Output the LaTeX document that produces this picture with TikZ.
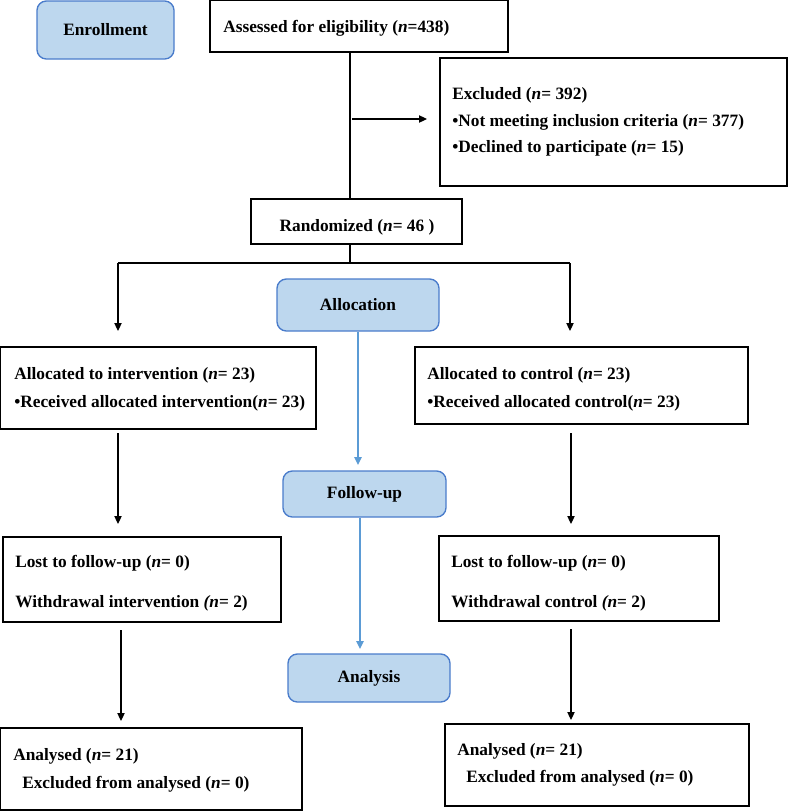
\documentclass[tikz,border=0pt]{standalone}
\usepackage{fontspec}
\setmainfont{Liberation Serif}
\usetikzlibrary{arrows.meta}
\definecolor{phasefill}{HTML}{BDD7EE}
\definecolor{phaseline}{HTML}{4A7CCB}
\definecolor{bluearrow}{HTML}{5B9BD5}
\newcommand{\nn}{\textit{n}}
\tikzset{
  box/.style={draw=black, line width=1.5pt, inner sep=0pt},
  phase/.style={draw=phaseline, fill=phasefill, line width=1pt, rounded corners=7pt, inner sep=0pt},
  txt/.style={inner sep=0pt, anchor=west, font=\fontsize{13}{15}\selectfont\bfseries},
  ctxt/.style={inner sep=0pt, font=\fontsize{13}{15}\selectfont\bfseries},
  arr/.style={draw=black, line width=0.8pt, -{Triangle[length=6pt,width=5.5pt]}},
  plain/.style={draw=black, line width=0.8pt},
  barr/.style={draw=bluearrow, line width=1.2pt, -{Triangle[length=6pt,width=5.5pt]}},
}
\begin{document}
\begin{tikzpicture}[x=0.75pt,y=-0.75pt]
\useasboundingbox (0,0) rectangle (789,811);
% phase boxes
\node[phase, minimum width=137*0.75pt, minimum height=58*0.75pt] (enr) at (105.5,30) {};
\node[ctxt] (enrT) at (105.5,30) {Enrollment};
\node[phase, minimum width=162*0.75pt, minimum height=52*0.75pt] (alloc) at (358,305) {};
\node[ctxt] (allocT) at (358,305) {Allocation};
\node[phase, minimum width=163*0.75pt, minimum height=46*0.75pt] (fol) at (364.5,494) {};
\node[ctxt] (folT) at (364.5,494) {Follow-up};
\node[phase, minimum width=162*0.75pt, minimum height=48*0.75pt] (ana) at (369,678) {};
\node[ctxt] (anaT) at (369,678) {Analysis};
% top
\node[box, minimum width=298*0.75pt, minimum height=52*0.75pt] (ass) at (359,26) {};
\node[txt] (assT) at (223,28) {Assessed for eligibility (\nn=438)};
\node[box, minimum width=347*0.75pt, minimum height=128*0.75pt] (exc) at (613.5,122) {};
\node[txt] (exc1) at (452,95) {Excluded (\nn= 392)};
\node[txt] (exc2) at (452,122) {\textbullet Not meeting inclusion criteria (\nn= 377)};
\node[txt] (exc3) at (452,148) {\textbullet Declined to participate (\nn= 15)};
\node[box, minimum width=211*0.75pt, minimum height=45*0.75pt] (rand) at (356.5,221.5) {};
\node[ctxt] (randT) at (357,227) {Randomized (\nn= 46 )};
% allocation
\node[box, minimum width=316*0.75pt, minimum height=82*0.75pt] (ali) at (158,388) {};
\node[txt] (ali1) at (14,375) {Allocated to intervention (\nn= 23)};
\node[txt] (ali2) at (14,403) {\textbullet Received allocated intervention(\nn= 23)};
\node[box, minimum width=333*0.75pt, minimum height=77*0.75pt] (alc) at (581.5,385.5) {};
\node[txt] (alc1) at (427,375) {Allocated to control (\nn= 23)};
\node[txt] (alc2) at (427,403) {\textbullet Received allocated control(\nn= 23)};
% follow-up
\node[box, minimum width=278*0.75pt, minimum height=85*0.75pt] (fli) at (142,579.5) {};
\node[txt] (fli1) at (15,563) {Lost to follow-up (\nn= 0)};
\node[txt] (fli2) at (15,603) {Withdrawal intervention \textit{(n}= 2)};
\node[box, minimum width=280*0.75pt, minimum height=85*0.75pt] (flc) at (579,578.5) {};
\node[txt] (flc1) at (451,563) {Lost to follow-up (\nn= 0)};
\node[txt] (flc2) at (451,603) {Withdrawal control \textit{(n}= 2)};
% analysis
\node[box, minimum width=302*0.75pt, minimum height=82*0.75pt] (ani) at (151,769) {};
\node[txt] (ani1) at (13,756) {Analysed (\nn= 21)};
\node[txt] (ani2) at (22,784) {Excluded from analysed (\nn= 0)};
\node[box, minimum width=304*0.75pt, minimum height=82*0.75pt] (anc) at (597,765) {};
\node[txt] (anc1) at (457,751) {Analysed (\nn= 21)};
\node[txt] (anc2) at (466,778) {Excluded from analysed (\nn= 0)};
% connectors
\coordinate (exArrS) at (352,119);
\coordinate (exArrE) at (427,119);
\coordinate (splitL) at (118,263);
\coordinate (splitR) at (570,263);
\coordinate (tipL) at (118,331);
\coordinate (tipR) at (570,331);
\draw[plain] (ass.south -| 350,0) -- (rand.north -| 350,0);
\draw[arr] (exArrS) -- (exArrE);
\draw[plain] (rand.south -| 350,0) -- (350,263);
\draw[plain] (splitL) -- (splitR);
\draw[arr] (splitL) -- (tipL);
\draw[arr] (splitR) -- (tipR);
\coordinate (a1s) at (118,433); \coordinate (a1e) at (118,524);
\coordinate (a2s) at (571,433); \coordinate (a2e) at (571,524);
\coordinate (a3s) at (121,630); \coordinate (a3e) at (121,721);
\coordinate (a4s) at (571,629); \coordinate (a4e) at (571,720);
\draw[arr] (a1s) -- (a1e);
\draw[arr] (a2s) -- (a2e);
\draw[arr] (a3s) -- (a3e);
\draw[arr] (a4s) -- (a4e);
\coordinate (b1e) at (358,465);
\coordinate (b2e) at (360,649);
\draw[barr] (alloc.south -| b1e) -- (b1e);
\draw[barr] (fol.south -| b2e) -- (b2e);
\end{tikzpicture}
\end{document}
